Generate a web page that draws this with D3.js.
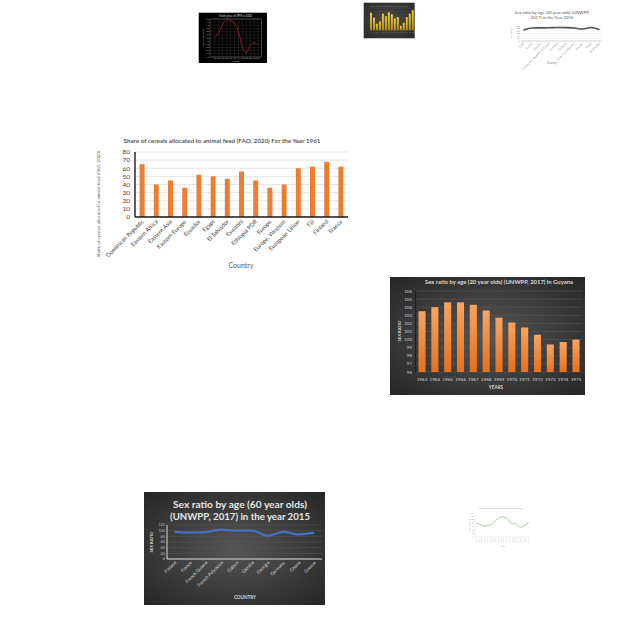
<!DOCTYPE html>
<html><head><meta charset="utf-8">
<script src="https://cdn.jsdelivr.net/npm/d3@7"></script>
<style>body{margin:0;background:#fff} svg{display:block}</style>
</head><body>
<svg id="c" width="640" height="640"></svg>
<script>
// ---------- DATA ----------
const cerealCountries = ["Dominican Republic","Eastern Africa","Eastern Asia","Eastern Europe","Ecuador","Egypt","El Salvador","Eswatini","Ethiopia PDR","Europe","Europe, Western","European Union","Fiji","Finland","France"];
const cerealShare = [65,40,45,36,52,50,47,56,45,36,40,60,62,68,62];
const cerealTicks = [0,10,20,30,40,50,60,70,80];

const guyanaYears = ["1963","1964","1965","1966","1967","1968","1969","1970","1971","1972","1973","1974","1975"];
const guyanaRatio = [103.5,104.0,104.6,104.6,104.3,103.6,102.7,102.1,101.5,100.6,99.4,99.7,100.0];
const guyanaTicks = [96,97,98,99,100,101,102,103,104,105,106];

const sr60Countries = ["Finland","France","French Guiana","French Polynesia","Gabon","Gambia","Georgia","Germany","Ghana","Greece"];
const sr60Values = [96,93,95,104,100,100,82,96,87,93];
const sr60Ticks = [0,20,40,60,80,100,120];

const sr20Countries = ["Cuba","Cyprus","Czechia","Democratic Republic of Congo","Denmark","Djibouti","Dominican Republic","Ecuador","Egypt","El Salvador"];
const sr20Values = [86,104,105,106,108,107,104,96,108,90];
const sr20Ticks = [0,20,40,60,80,100,120];

const jpmMonths = ["Jan","Feb","Mar","Apr","May","Jun","Jul","Aug","Sep","Oct","Nov","Dec"];
const jpmPrice = [122,128.6,142.5,148.9,147.3,143.6,130.2,106.1,96.4,108.8,112.5,108.8];
const jpmTicks = [90,95,100,105,110,115,120,125,130,135,140,145,150];

const goldLabels = ["1","2","3","4","5","6","7","8","9","10","11","12","13","14","15"];
const goldValues = [56,40,21,28,53,45,57,51,38,42,14,24,42,53,64];
const goldTicks = [0,10,20,30,40,50,60,70];

const greenYears = ["2000","2001","2002","2003","2004","2005","2006","2007","2008","2009","2010","2011","2012","2013","2014","2015","2016","2017","2018","2019"];
const greenValues = [82,77,69,63,67,69,80,96,111,117,117,111,92,77,80,69,58,61,73,84];
const greenTicks = [0,20,40,60,80,100,120,140];

// ---------- DRAW ----------
const svg = d3.select("#c");
const F = "Lato, 'Open Sans', sans-serif";
const defs = svg.append("defs");

function radial(id, c1, c2){
  const r = defs.append("radialGradient").attr("id", id).attr("cx","50%").attr("cy","50%").attr("r","70%");
  r.append("stop").attr("offset","0%").attr("stop-color",c1);
  r.append("stop").attr("offset","100%").attr("stop-color",c2);
}
function linear(id, c1, c2, vertical){
  const l = defs.append("linearGradient").attr("id", id).attr("x1","0").attr("y1","0").attr("x2", vertical?"0":"1").attr("y2", vertical?"1":"0");
  l.append("stop").attr("offset","0%").attr("stop-color",c1);
  l.append("stop").attr("offset","100%").attr("stop-color",c2);
}
radial("darkBg", "#555555", "#262626");
radial("darkBg2", "#4a4a4a", "#2a2a2a");
linear("orangeBar", "#f7a562", "#e8701a", true);
linear("goldBar", "#f2cf3a", "#b88a10", true);

// ===== 1. Main cereal bar chart =====
{
  const g = svg.append("g");
  const x = d3.scaleBand().domain(cerealCountries).range([135,348]).paddingInner(0.65).paddingOuter(0.325);
  const y = d3.scaleLinear().domain([0,80]).range([217,152]);
  g.selectAll(".grid").data(cerealTicks).join("line")
    .attr("x1",135).attr("x2",348).attr("y1",d=>y(d)).attr("y2",d=>y(d))
    .attr("stroke","#d9d9d9").attr("stroke-width",0.7);
  g.selectAll(".bar").data(cerealShare).join("rect")
    .attr("x",(d,i)=>x(cerealCountries[i])).attr("width",x.bandwidth())
    .attr("y",d=>y(d)).attr("height",d=>y(0)-y(d))
    .attr("fill","#ed7d31");
  g.append("line").attr("x1",135).attr("x2",135).attr("y1",y(80)).attr("y2",y(0)).attr("stroke","#1a1a1a").attr("stroke-width",1.4);
  g.append("line").attr("x1",135).attr("x2",348).attr("y1",y(0)).attr("y2",y(0)).attr("stroke","#1a1a1a").attr("stroke-width",1.4);
  g.selectAll(".yt").data(cerealTicks).join("text")
    .attr("x",130).attr("y",d=>y(d)).attr("dy","0.35em").attr("text-anchor","end")
    .attr("font-family",F).attr("font-size",6.5).attr("fill","#404040").text(d=>d);
  g.selectAll(".xt").data(cerealCountries).join("text")
    .attr("transform",d=>`translate(${x(d)+x.bandwidth()/2+2},${y(0)+5}) rotate(-45)`)
    .attr("text-anchor","end").attr("font-family",F).attr("font-size",5.8).attr("fill","#404040").text(d=>d);
  g.append("text").attr("x",222).attr("y",143).attr("text-anchor","middle")
    .attr("font-family",F).attr("font-size",6.3).attr("font-weight",700).attr("fill","#595959")
    .attr("textLength",197).attr("lengthAdjust","spacingAndGlyphs")
    .text("Share of cereals allocated to animal feed (FAO, 2020)  For the Year 1961");
  g.append("text").attr("transform","translate(100,204) rotate(-90)").attr("text-anchor","middle")
    .attr("font-family",F).attr("font-size",4.6).attr("fill","#595959")
    .text("Share of cereals allocated to animal feed (FAO, 2020)");
  g.append("text").attr("x",241).attr("y",268).attr("text-anchor","middle")
    .attr("font-family",F).attr("font-size",7).attr("fill","#595959").text("Country");
}

// ===== 2. Guyana bar chart =====
{
  const g = svg.append("g");
  g.append("rect").attr("x",390).attr("y",277).attr("width",195).attr("height",118).attr("fill","url(#darkBg)");
  const x = d3.scaleBand().domain(guyanaYears).range([415.6,582.4]).paddingInner(0.45).paddingOuter(0.225);
  const y = d3.scaleLinear().domain([96,106]).range([372,291]);
  g.selectAll(".grid").data(guyanaTicks).join("line")
    .attr("x1",415.6).attr("x2",582.4).attr("y1",d=>y(d)).attr("y2",d=>y(d))
    .attr("stroke","#5e5e5e").attr("stroke-width",0.5);
  g.selectAll(".bar").data(guyanaRatio).join("rect")
    .attr("x",(d,i)=>x(guyanaYears[i])).attr("width",x.bandwidth())
    .attr("y",d=>y(d)).attr("height",d=>y(96)-y(d)).attr("fill","url(#orangeBar)");
  g.append("line").attr("x1",415.6).attr("x2",415.6).attr("y1",291).attr("y2",372).attr("stroke","#1e1e1e").attr("stroke-width",1);
  g.selectAll(".yt").data(guyanaTicks).join("text")
    .attr("x",412).attr("y",d=>y(d)).attr("dy","0.35em").attr("text-anchor","end")
    .attr("font-family",F).attr("font-size",4.5).attr("fill","#d0d0d0").text(d=>d);
  g.selectAll(".xt").data(guyanaYears).join("text")
    .attr("x",d=>x(d)+x.bandwidth()/2).attr("y",381).attr("text-anchor","middle")
    .attr("font-family",F).attr("font-size",4.6).attr("fill","#d9d9d9").text(d=>d);
  g.append("text").attr("x",499).attr("y",283.5).attr("text-anchor","middle")
    .attr("font-family",F).attr("font-size",5.6).attr("font-weight",700).attr("fill","#d9d9d9")
    .attr("textLength",148).attr("lengthAdjust","spacingAndGlyphs")
    .text("Sex ratio by age (20 year olds) (UNWPP, 2017) in Guyana");
  g.append("text").attr("x",496).attr("y",388.5).attr("text-anchor","middle")
    .attr("font-family",F).attr("font-size",4.6).attr("font-weight",700).attr("fill","#d9d9d9").text("YEARS");
  g.append("text").attr("transform","translate(401,331) rotate(-90)").attr("text-anchor","middle")
    .attr("font-family",F).attr("font-size",4.2).attr("font-weight",700).attr("fill","#d9d9d9").text("SEX RATIO");
}

// ===== 3. Sex ratio 60 year olds line chart =====
{
  const g = svg.append("g");
  g.append("rect").attr("x",144).attr("y",492).attr("width",181).attr("height",113).attr("fill","url(#darkBg)");
  const x = d3.scalePoint().domain(sr60Countries).range([167,322]).padding(0.5);
  const y = d3.scaleLinear().domain([0,120]).range([559,525]);
  g.selectAll(".grid").data(sr60Ticks).join("line")
    .attr("x1",167).attr("x2",322).attr("y1",d=>y(d)).attr("y2",d=>y(d))
    .attr("stroke","#5a5a5a").attr("stroke-width",0.5);
  g.append("line").attr("x1",167).attr("x2",167).attr("y1",525).attr("y2",559).attr("stroke","#d9d9d9").attr("stroke-width",1);
  g.append("line").attr("x1",167).attr("x2",322).attr("y1",559).attr("y2",559).attr("stroke","#d9d9d9").attr("stroke-width",1.2);
  const line = d3.line().x((d,i)=>x(sr60Countries[i])).y(d=>y(d)).curve(d3.curveMonotoneX);
  g.append("path").datum(sr60Values).attr("d",line).attr("fill","none").attr("stroke","#4472c4").attr("stroke-width",2.2);
  g.selectAll(".yt").data(sr60Ticks).join("text")
    .attr("x",165).attr("y",d=>y(d)).attr("dy","0.35em").attr("text-anchor","end")
    .attr("font-family",F).attr("font-size",3.8).attr("fill","#bfbfbf").text(d=>d);
  g.selectAll(".xt").data(sr60Countries).join("text")
    .attr("transform",d=>`translate(${x(d)+2},${563}) rotate(-45)`)
    .attr("text-anchor","end").attr("font-family",F).attr("font-size",4.6).attr("fill","#d9d9d9").text(d=>d);
  g.append("text").attr("x",240).attr("y",507.5).attr("text-anchor","middle")
    .attr("font-family",F).attr("font-size",9.5).attr("font-weight",700).attr("fill","#e6e6e6")
    .attr("textLength",134).attr("lengthAdjust","spacingAndGlyphs")
    .text("Sex ratio by age (60 year olds)");
  g.append("text").attr("x",240).attr("y",519.5).attr("text-anchor","middle")
    .attr("font-family",F).attr("font-size",9.5).attr("font-weight",700).attr("fill","#e6e6e6")
    .attr("textLength",140).attr("lengthAdjust","spacingAndGlyphs")
    .text("(UNWPP, 2017) in the year 2015");
  g.append("text").attr("transform","translate(153,542) rotate(-90)").attr("text-anchor","middle")
    .attr("font-family",F).attr("font-size",4.2).attr("font-weight",700).attr("fill","#d9d9d9").text("SEX RATIO");
  g.append("text").attr("x",245).attr("y",599).attr("text-anchor","middle")
    .attr("font-family",F).attr("font-size",4.6).attr("font-weight",700).attr("fill","#d9d9d9").text("COUNTRY");
}

// ===== 4. Top-right sex ratio 20 year olds =====
{
  const g = svg.append("g");
  const x = d3.scalePoint().domain(sr20Countries).range([521,602]).padding(0.3);
  const y = d3.scaleLinear().domain([0,120]).range([41,26]);
  g.selectAll(".grid").data(sr20Ticks).join("line")
    .attr("x1",521).attr("x2",602).attr("y1",d=>y(d)).attr("y2",d=>y(d))
    .attr("stroke","#e3e3e3").attr("stroke-width",0.4);
  g.append("line").attr("x1",521).attr("x2",602).attr("y1",41).attr("y2",41).attr("stroke","#bfbfbf").attr("stroke-width",0.6);
  const line = d3.line().x((d,i)=>x(sr20Countries[i])).y(d=>y(d)).curve(d3.curveMonotoneX);
  g.append("path").datum(sr20Values).attr("d",line).attr("fill","none").attr("stroke","#555555").attr("stroke-width",1.6);
  g.selectAll(".yt").data(sr20Ticks).join("text")
    .attr("x",519.5).attr("y",d=>y(d)).attr("dy","0.35em").attr("text-anchor","end")
    .attr("font-family",F).attr("font-size",2.2).attr("fill","#8a8a8a").text(d=>d);
  g.selectAll(".xt").data(sr20Countries).join("text")
    .attr("transform",d=>`translate(${x(d)+1},${43.5}) rotate(-45)`)
    .attr("text-anchor","end").attr("font-family",F).attr("font-size",2.8).attr("fill","#8a8a8a").text(d=>d);
  g.append("text").attr("x",552).attr("y",14).attr("text-anchor","middle")
    .attr("font-family",F).attr("font-size",4.3).attr("fill","#595959")
    .text("Sex ratio by age (20 year olds) (UNWPP,");
  g.append("text").attr("x",552).attr("y",19).attr("text-anchor","middle")
    .attr("font-family",F).attr("font-size",4.3).attr("fill","#595959")
    .text("2017) in the Year 2016");
  g.append("text").attr("transform","translate(512,33.5) rotate(-90)").attr("text-anchor","middle")
    .attr("font-family",F).attr("font-size",2.4).attr("fill","#8a8a8a").text("Sex ratio");
  g.append("text").attr("x",552).attr("y",63.5).attr("text-anchor","middle")
    .attr("font-family",F).attr("font-size",3).attr("fill","#8a8a8a").text("Country");
}

// ===== 5. Top-left black JPM line chart =====
{
  const g = svg.append("g");
  g.append("rect").attr("x",198.7).attr("y",12.7).attr("width",68.3).attr("height",50.3).attr("fill","#000");
  const x = d3.scalePoint().domain(jpmMonths).range([211,262]).padding(1);
  const y = d3.scaleLinear().domain([90,150]).range([57,19]);
  g.selectAll(".gh").data(jpmTicks).join("line")
    .attr("x1",210).attr("x2",261.5).attr("y1",d=>y(d)).attr("y2",d=>y(d))
    .attr("stroke","#3c3c3c").attr("stroke-width",0.35);
  g.selectAll(".gv").data(jpmMonths).join("line")
    .attr("x1",d=>x(d)).attr("x2",d=>x(d)).attr("y1",19).attr("y2",57)
    .attr("stroke","#3c3c3c").attr("stroke-width",0.35);
  g.append("rect").attr("x",210).attr("y",19).attr("width",51.5).attr("height",38).attr("fill","none").attr("stroke","#9a9a9a").attr("stroke-width",0.4);
  const line = d3.line().x((d,i)=>x(jpmMonths[i])).y(d=>y(d)).curve(d3.curveMonotoneX);
  g.append("path").datum(jpmPrice).attr("d",line).attr("fill","none").attr("stroke","#a3201e").attr("stroke-width",0.8);
  g.selectAll(".yt").data(jpmTicks).join("text")
    .attr("x",209).attr("y",d=>y(d)).attr("dy","0.35em").attr("text-anchor","end")
    .attr("font-family",F).attr("font-size",1.8).attr("fill","#bbbbbb").text(d=>d);
  g.selectAll(".xt").data(jpmMonths).join("text")
    .attr("x",d=>x(d)).attr("y",59).attr("text-anchor","middle")
    .attr("font-family",F).attr("font-size",1.8).attr("fill","#bbbbbb").text(d=>d);
  g.append("text").attr("x",235.5).attr("y",17).attr("text-anchor","middle")
    .attr("font-family",F).attr("font-size",2.8).attr("fill","#dddddd").text("Stock price of JPM in 2020");
  g.append("text").attr("transform","translate(204,38) rotate(-90)").attr("text-anchor","middle")
    .attr("font-family",F).attr("font-size",2.2).attr("fill","#cccccc").text("Stock Price (USD)");
  g.append("text").attr("x",235.5).attr("y",62).attr("text-anchor","middle")
    .attr("font-family",F).attr("font-size",2.2).attr("fill","#cccccc").text("Month");
}

// ===== 6. Top-middle gold bar chart =====
{
  const g = svg.append("g");
  g.append("rect").attr("x",363.7).attr("y",2.7).attr("width",51).attr("height",35.6).attr("fill","url(#darkBg2)");
  const x = d3.scaleBand().domain(goldLabels).range([369.5,414.2]).paddingInner(0.35).paddingOuter(0.17);
  const y = d3.scaleLinear().domain([0,70]).range([30.3,8.3]);
  g.selectAll(".grid").data(goldTicks).join("line")
    .attr("x1",369.5).attr("x2",413).attr("y1",d=>y(d)).attr("y2",d=>y(d))
    .attr("stroke","#555").attr("stroke-width",0.3);
  g.selectAll(".bar").data(goldValues).join("rect")
    .attr("x",(d,i)=>x(goldLabels[i])).attr("width",x.bandwidth())
    .attr("y",d=>y(d)).attr("height",d=>y(0)-y(d)).attr("fill","url(#goldBar)");
  g.selectAll(".xt").data(goldLabels).join("text")
    .attr("x",d=>x(d)+x.bandwidth()/2).attr("y",33).attr("text-anchor","middle")
    .attr("font-family",F).attr("font-size",1.6).attr("fill","#999").text(d=>d);
  g.append("text").attr("x",389).attr("y",6.5).attr("text-anchor","middle")
    .attr("font-family",F).attr("font-size",2.2).attr("fill","#8c8c8c").text("Share of cereals allocated to animal feed");
}

// ===== 7. Bottom-right green line chart =====
{
  const g = svg.append("g");
  const x = d3.scalePoint().domain(greenYears).range([475,530]).padding(0.5);
  const y = d3.scaleLinear().domain([0,140]).range([537,513]);
  g.append("line").attr("x1",475).attr("x2",475).attr("y1",513).attr("y2",537).attr("stroke","#cfcfcf").attr("stroke-width",0.4);
  g.append("line").attr("x1",475).attr("x2",530).attr("y1",537).attr("y2",537).attr("stroke","#cfcfcf").attr("stroke-width",0.4);
  const line = d3.line().x((d,i)=>x(greenYears[i])).y(d=>y(d)).curve(d3.curveMonotoneX);
  g.append("path").datum(greenValues).attr("d",line).attr("fill","none").attr("stroke","#8fc27a").attr("stroke-width",0.8);
  g.selectAll(".yt").data(greenTicks).join("text")
    .attr("x",473.5).attr("y",d=>y(d)).attr("dy","0.35em").attr("text-anchor","end")
    .attr("font-family",F).attr("font-size",1.6).attr("fill","#999").text(d=>d);
  g.selectAll(".xt").data(greenYears).join("text")
    .attr("transform",d=>`translate(${x(d)+0.5},${538.5}) rotate(-90)`)
    .attr("text-anchor","end").attr("font-family",F).attr("font-size",1.6).attr("fill","#999").text(d=>d);
  g.append("text").attr("x",501).attr("y",509).attr("text-anchor","middle")
    .attr("font-family",F).attr("font-size",2).attr("fill","#aaa").text("Share of cereals allocated to animal feed over time");
  g.append("text").attr("transform","translate(470,525) rotate(-90)").attr("text-anchor","middle")
    .attr("font-family",F).attr("font-size",1.7).attr("fill","#aaa").text("Share of cereals (%)");
  g.append("text").attr("x",503).attr("y",546.5).attr("text-anchor","middle")
    .attr("font-family",F).attr("font-size",2).attr("fill","#aaa").text("Year");
}
</script>
</body></html>
